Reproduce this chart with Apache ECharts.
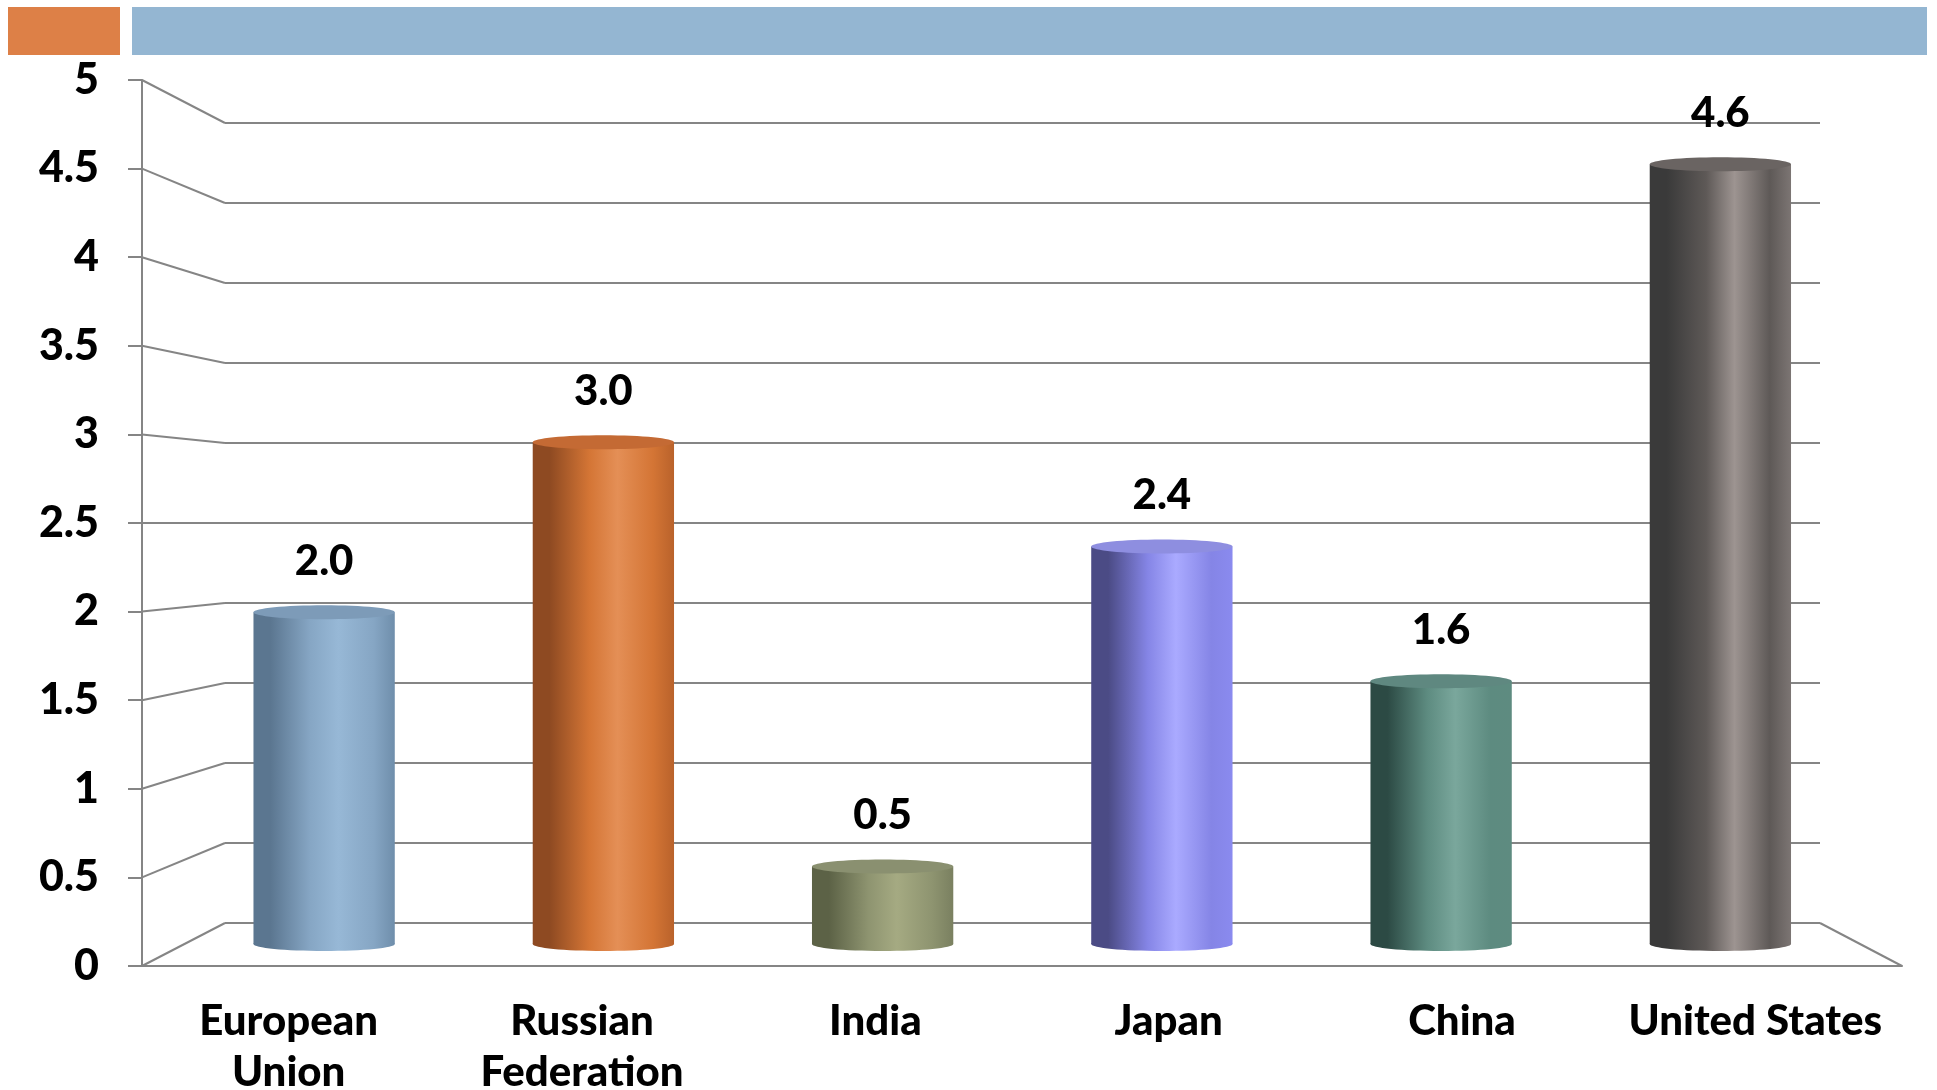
<!DOCTYPE html>
<html>
<head>
<meta charset="utf-8">
<script src="https://cdn.jsdelivr.net/npm/echarts@6/dist/echarts.min.js"></script>
<style>
  html, body { margin: 0; padding: 0; background: #fff; }
  #main { width: 1937px; height: 1090px; }
</style>
</head>
<body>
<div id="main"></div>
<script>
// data
const categories = ["European\nUnion", "Russian\nFederation", "India", "Japan", "China", "United States"];
const values = [1.97, 2.98, 0.46, 2.36, 1.56, 4.63];
const yTicks = [0, 0.5, 1, 1.5, 2, 2.5, 3, 3.5, 4, 4.5, 5];

// cylinder shading: left edge, mid, highlight, right edge, cap
const palette = [
  ["#5b7690", "#86a6c4", "#97b8d6", "#6f8eab", "#7d9bb8"],
  ["#8e4a22", "#d47535", "#e48f56", "#b9622b", "#c46a34"],
  ["#5c6246", "#8e9470", "#a5aa82", "#7a8060", "#8a9070"],
  ["#4b4b85", "#8585e6", "#aaaaff", "#8a8aef", "#8e8ee0"],
  ["#2c4a44", "#5d8b80", "#7aa79c", "#5e8b80", "#5f8880"],
  ["#3a3a3a", "#5e5957", "#9d9491", "#7c7573", "#6a6462"]
];

const gridColor = "#858585";
const font = "Lato";

const hiddenCat = {
  type: "category", data: categories, show: false
};

const option = {
  animation: false,
  textStyle: { fontFamily: font },
  graphic: [
    { type: "rect", shape: { x: 8, y: 7, width: 112, height: 48 }, style: { fill: "#dd8047" } },
    { type: "rect", shape: { x: 132, y: 7, width: 1795, height: 48 }, style: { fill: "#94b6d2" } }
  ],
  grid: [
    // back wall
    { left: 225, right: 117, top: 123, bottom: 167, outerBoundsMode: "none" },
    // front plane (axes)
    { left: 142, right: 35, top: 80, bottom: 124, outerBoundsMode: "none" },
    // bar plane (mid depth)
    { left: 184.5, right: 77, top: 102, bottom: 146, outerBoundsMode: "none" }
  ],
  xAxis: [
    Object.assign({ gridIndex: 0 }, hiddenCat),
    {
      gridIndex: 1,
      type: "category",
      data: categories,
      axisLine: { lineStyle: { color: gridColor, width: 2 } },
      axisTick: { length: 12, lineStyle: { color: gridColor, width: 2 } },
      axisLabel: {
        interval: 0,
        margin: 30,
        color: "#000",
        fontFamily: font,
        fontWeight: 900,
        fontSize: 42,
        lineHeight: 51
      }
    },
    Object.assign({ gridIndex: 2 }, hiddenCat)
  ],
  yAxis: [
    {
      gridIndex: 0, type: "value", min: 0, max: 5, interval: 0.5,
      axisLine: { show: false }, axisTick: { show: false }, axisLabel: { show: false },
      splitLine: { lineStyle: { color: gridColor, width: 2 } }
    },
    {
      gridIndex: 1, type: "value", min: 0, max: 5, interval: 0.5,
      axisLine: { show: true, lineStyle: { color: gridColor, width: 2 } },
      axisTick: { show: true, length: 14, lineStyle: { color: gridColor, width: 2 } },
      splitLine: { show: false },
      axisLabel: {
        margin: 43,
        padding: [10, 0, 0, 0],
        color: "#000",
        fontFamily: font,
        fontWeight: 900,
        fontSize: 43
      }
    },
    {
      gridIndex: 2, type: "value", min: 0, max: 5, interval: 0.5, show: false,
      splitLine: { show: false }
    }
  ],
  series: [
    {
      type: "custom",
      xAxisIndex: 2,
      yAxisIndex: 2,
      z: 5,
      data: values.map((v, i) => [i, v]),
      renderItem(params, api) {
        const i = api.value(0);
        const v = api.value(1);
        const top = api.coord([i, v]);
        const base = api.coord([i, 0]);
        const w = api.size([1, 0])[0] * 0.506;
        const rx = w / 2, ry = 7;
        const c = palette[i];
        const side = {
          type: "linear", x: 0, y: 0, x2: 1, y2: 0,
          colorStops: [
            { offset: 0, color: c[0] },
            { offset: 0.12, color: c[0] },
            { offset: 0.4, color: c[1] },
            { offset: 0.6, color: c[2] },
            { offset: 0.85, color: c[1] },
            { offset: 1, color: c[3] }
          ]
        };
        return {
          type: "group",
          children: [
            { type: "ellipse", shape: { cx: top[0], cy: base[1], rx: rx, ry: ry }, style: { fill: side } },
            { type: "rect", shape: { x: top[0] - rx, y: top[1], width: w, height: base[1] - top[1] }, style: { fill: side } },
            { type: "ellipse", shape: { cx: top[0], cy: top[1], rx: rx, ry: ry }, style: { fill: c[4] } },
            {
              type: "text",
              style: {
                text: v.toFixed(1),
                x: top[0],
                y: top[1] - 30,
                align: "center",
                verticalAlign: "bottom",
                fontFamily: font,
                fontWeight: 900,
                fontSize: 42,
                fill: "#000"
              }
            }
          ]
        };
      }
    }
  ]
};

const chart = echarts.init(document.getElementById("main"));
chart.setOption(option);

// perspective edges joining the front axis to the back wall, from the axes' own scales
function bandEdges(axisIndex) {
  const c0 = chart.convertToPixel({ xAxisIndex: axisIndex }, 0);
  const c1 = chart.convertToPixel({ xAxisIndex: axisIndex }, 1);
  const cN = chart.convertToPixel({ xAxisIndex: axisIndex }, categories.length - 1);
  const half = (c1 - c0) / 2;
  return [c0 - half, cN + half];
}
const front = bandEdges(1);
const back = bandEdges(0);
const edges = yTicks.map(t => ({
  type: "line",
  z: 1,
  shape: {
    x1: front[0], y1: chart.convertToPixel({ yAxisIndex: 1 }, t),
    x2: back[0], y2: chart.convertToPixel({ yAxisIndex: 0 }, t)
  },
  style: { stroke: gridColor, lineWidth: 2 }
}));
edges.push({
  type: "line",
  z: 1,
  shape: {
    x1: back[1], y1: chart.convertToPixel({ yAxisIndex: 0 }, 0),
    x2: front[1], y2: chart.convertToPixel({ yAxisIndex: 1 }, 0)
  },
  style: { stroke: gridColor, lineWidth: 2 }
});
chart.setOption({ graphic: option.graphic.concat(edges) });
</script>
</body>
</html>
